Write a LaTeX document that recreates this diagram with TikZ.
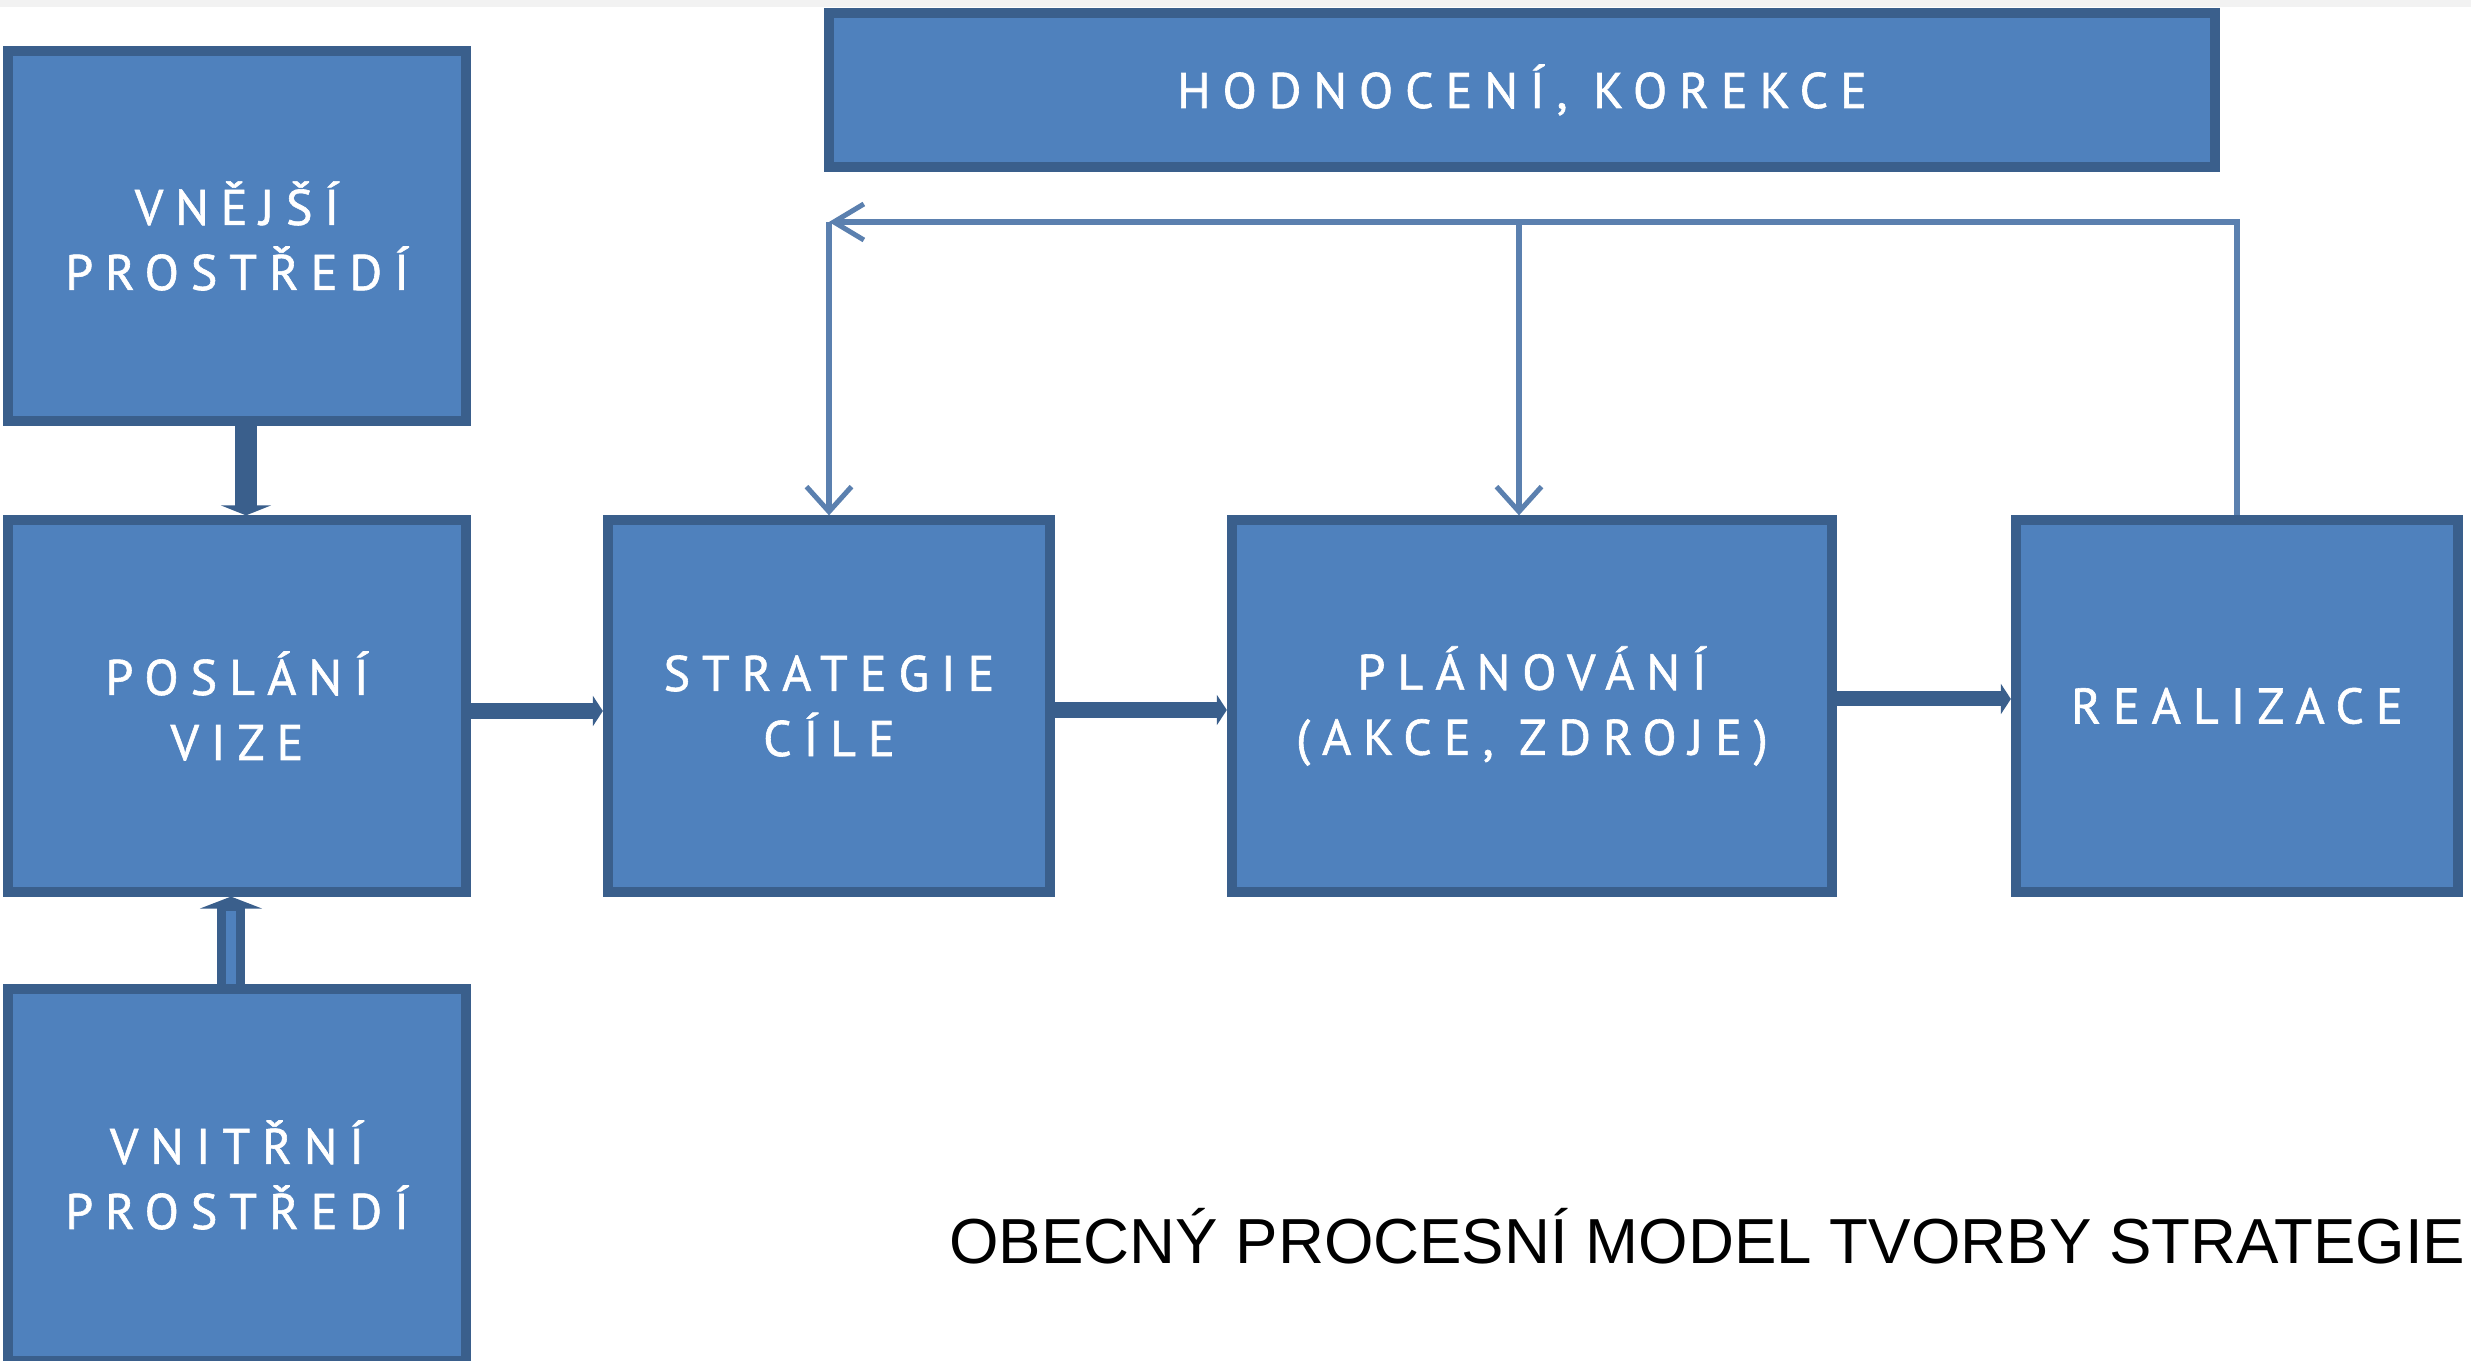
\documentclass[tikz,border=0pt]{standalone}
\usepackage{fontspec}
\setmainfont{Liberation Sans}
\newfontfamily\boxfont[LetterSpace=24,FakeBold=1.2]{PT Sans}
\usetikzlibrary{arrows.meta}
\definecolor{fillblue}{HTML}{4F81BD}
\definecolor{edgeblue}{HTML}{3A5F8C}
\definecolor{thinblue}{HTML}{5B80AF}
\definecolor{topgray}{HTML}{F2F2F2}
\begin{document}
\begin{tikzpicture}[x=0.01cm,y=-0.01cm,
  blk/.style={draw=edgeblue, fill=fillblue, line width=0.1cm, text=white,
    font=\boxfont\fontsize{14.2}{18.5}\selectfont, align=center, inner sep=0pt},
  bigarrow/.style={draw=edgeblue, line width=0.15cm, -{Triangle[width=0.3cm,length=0.1cm]}},
  fbline/.style={draw=thinblue, line width=0.055cm},
  fbhead/.style={-{Straight Barb[width=0.45cm,length=0.25cm,line width=0.05cm]}}
]
\useasboundingbox (0,0) rectangle (2471,1361);
\fill[white] (0,0) rectangle (2471,1361);
\fill[topgray] (0,0) rectangle (2471,7);

\node[blk, minimum width=4.58cm, minimum height=3.69cm] (vnej) at (237,236) {VNĚJŠÍ\\PROSTŘEDÍ};
\node[blk, minimum width=4.58cm, minimum height=3.71cm] (posl) at (237,706) {POSLÁNÍ\\VIZE};
\node[blk, minimum width=4.58cm, minimum height=3.71cm] (vnit) at (237,1175) {VNITŘNÍ\\PROSTŘEDÍ};
\node[blk, minimum width=4.42cm, minimum height=3.71cm] (strat) at (829,706) {STRATEGIE\\CÍLE};
\node[blk, minimum width=6.00cm, minimum height=3.71cm] (plan) at (1532,706) {PLÁNOVÁNÍ\\(AKCE, ZDROJE)};
\node[blk, minimum width=4.42cm, minimum height=3.71cm] (real) at (2237,706) {REALIZACE};
\node[blk, minimum width=13.86cm, minimum height=1.54cm] (hodn) at (1522,90) {HODNOCENÍ, KOREKCE};

\node[anchor=base east, font=\fontsize{18.1}{20}\selectfont, inner sep=0pt] (cap) at (2466,1263) {OBECNÝ PROCESNÍ MODEL TVORBY STRATEGIE};

% left column arrows
\draw[draw=edgeblue, line width=0.22cm, -{Triangle[width=0.5cm,length=0.1cm]}]
  ([xshift=0.09cm]vnej.south) -- ([xshift=0.09cm]posl.north);
\draw[draw=edgeblue, line width=0.28cm, -{Triangle[width=0.62cm,length=0.12cm]}]
  ([xshift=-0.06cm]vnit.north) -- ([xshift=-0.06cm]posl.south);
\draw[draw=fillblue, line width=0.09cm]
  ([xshift=-0.06cm]vnit.north) -- ([xshift=-0.06cm,yshift=-0.14cm]posl.south);

% main flow arrows
\draw[bigarrow] ([yshift=-0.05cm]posl.east) -- ([yshift=-0.05cm]strat.west);
\draw[bigarrow] ([yshift=-0.04cm]strat.east) -- ([yshift=-0.04cm]plan.west);
\draw[bigarrow] ([yshift=0.07cm]plan.east) -- ([yshift=0.07cm]real.west);

% feedback loop
\coordinate (lvl) at (0,222);
\coordinate (fbL) at (strat.north |- lvl);
\coordinate (pm) at ([xshift=-0.13cm]plan.north);
\coordinate (pmtop) at (pm |- lvl);
\draw[fbline, -{Straight Barb[width=0.36cm,length=0.3cm,line width=0.05cm]}] (real.north) |- (fbL);
\draw[fbline, fbhead] (fbL) -- (strat.north);
\draw[fbline, fbhead] (pmtop) -- (pm);
\end{tikzpicture}
\end{document}
